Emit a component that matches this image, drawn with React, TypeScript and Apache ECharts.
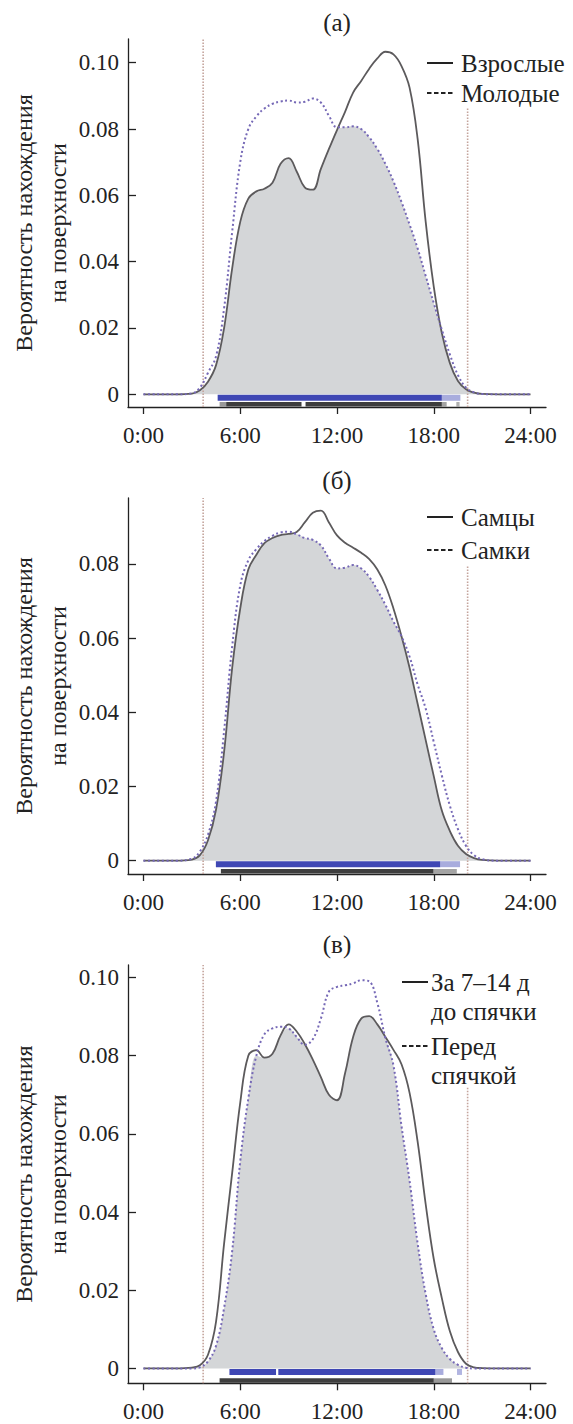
import React, { useEffect, useRef } from "react";
import * as echarts from "echarts";

// Hours of day at which the activity densities are sampled
const hours = [0, 2, 3, 3.5, 4, 4.5, 5, 5.5, 6, 6.5, 7, 7.5, 8, 8.5, 9, 9.5, 10, 10.5, 11, 11.5, 12, 12.5, 13, 13.5, 14, 14.5, 15, 15.5, 16, 16.5, 17, 17.5, 18, 18.5, 19, 19.5, 20, 20.5, 21, 22, 24];

// (а) adults vs young
const adults = [0, 0, 0.0002, 0.0012, 0.0038, 0.0088, 0.020, 0.038, 0.052, 0.059, 0.0612, 0.062, 0.0638, 0.0695, 0.0712, 0.0672, 0.0624, 0.0617, 0.068, 0.074, 0.0797, 0.0852, 0.091, 0.0945, 0.0982, 0.1013, 0.1033, 0.1025, 0.099, 0.0925, 0.077, 0.052, 0.0325, 0.0185, 0.0094, 0.004, 0.0015, 0.0005, 0.0001, 0, 0];
const young = [0, 0, 0.0003, 0.002, 0.0065, 0.0115, 0.026, 0.049, 0.070, 0.080, 0.0838, 0.0862, 0.0876, 0.0883, 0.0886, 0.088, 0.0882, 0.0892, 0.088, 0.084, 0.0805, 0.0805, 0.0808, 0.080, 0.0775, 0.074, 0.0695, 0.0642, 0.058, 0.0512, 0.044, 0.0357, 0.0275, 0.0195, 0.012, 0.0058, 0.002, 0.0006, 0.0001, 0, 0];

// (б) males vs females
const males = [0, 0, 0.0003, 0.0015, 0.0055, 0.0138, 0.0294, 0.052, 0.068, 0.0785, 0.0825, 0.0856, 0.087, 0.0878, 0.0881, 0.0886, 0.0912, 0.0938, 0.0944, 0.0912, 0.0877, 0.0857, 0.0844, 0.083, 0.0813, 0.0785, 0.0742, 0.068, 0.0605, 0.052, 0.0423, 0.0325, 0.0228, 0.0135, 0.008, 0.004, 0.0018, 0.0007, 0.0002, 0, 0];
const females = [0, 0, 0.0005, 0.0025, 0.007, 0.016, 0.035, 0.0578, 0.0742, 0.081, 0.084, 0.0862, 0.0876, 0.0885, 0.0887, 0.088, 0.087, 0.0865, 0.085, 0.0815, 0.0788, 0.079, 0.0797, 0.0788, 0.0765, 0.073, 0.069, 0.0645, 0.0605, 0.055, 0.0475, 0.041, 0.032, 0.023, 0.0148, 0.0085, 0.004, 0.0015, 0.0004, 0, 0];

// (в) 7–14 days before hibernation vs just before hibernation
const weeksBefore = [0, 0, 0.0002, 0.0008, 0.0035, 0.012, 0.032, 0.050, 0.068, 0.080, 0.0814, 0.0795, 0.0805, 0.0852, 0.088, 0.0862, 0.083, 0.079, 0.0745, 0.070, 0.0686, 0.0755, 0.0848, 0.0895, 0.0901, 0.088, 0.0848, 0.0815, 0.0778, 0.0705, 0.058, 0.042, 0.028, 0.018, 0.0095, 0.0042, 0.0012, 0.0003, 0.0001, 0, 0];
const justBefore = [0, 0, 0, 0.0003, 0.0018, 0.0058, 0.0155, 0.030, 0.053, 0.069, 0.080, 0.0855, 0.087, 0.0874, 0.087, 0.0848, 0.0828, 0.0842, 0.0895, 0.0964, 0.0976, 0.098, 0.0985, 0.0993, 0.099, 0.0935, 0.0845, 0.0775, 0.062, 0.048, 0.032, 0.019, 0.010, 0.0052, 0.0024, 0.0009, 0.0002, 0, 0, 0, 0];

// Observation rugs: [from hour, to hour, density of ticks]
const rugAdults = [[4.72, 5.13, 0.45], [5.13, 9.8, 0.85], [10.05, 18.5, 0.85], [18.5, 18.8, 0.4], [19.4, 19.6, 0.35]];
const rugYoung = [[4.6, 18.5, 1], [18.5, 19.65, 0.45]];
const rugMales = [[4.8, 17.98, 0.85], [17.98, 19.43, 0.4]];
const rugFemales = [[4.49, 18.4, 1], [18.4, 19.63, 0.45]];
const rugWeeksBefore = [[4.72, 18.0, 0.85], [18.0, 19.13, 0.45]];
const rugJustBefore = [[5.33, 8.22, 1], [8.36, 18.1, 1], [18.1, 18.6, 0.45], [19.44, 19.75, 0.4]];

// Sunrise and sunset, hours
const sunrise = 3.7;
const sunset = 20.1;

const hourTicks = [0, 6, 12, 18, 24];
const probTicksA = [0, 0.02, 0.04, 0.06, 0.08, 0.1];
const probTicksB = [0, 0.02, 0.04, 0.06, 0.08];
const probTicksC = [0, 0.02, 0.04, 0.06, 0.08, 0.1];

const yTitle = ["Вероятность нахождения", "на поверхности"];

const FONT = "'Liberation Serif', 'Times New Roman', serif";
const INK = "#222";
const FILL = "#d4d6d8";
const SOLID = "#5c5a5c";
const DOTTED = "#7568b6";
const SUNLINE = "#c4a49c";
const RUG_BLUE = "#3f47b4";
const RUG_BLACK = "#1c1c1c";

const GRID_LEFT = 128;
const GRID_WIDTH = 418;

const panels = [
  {
    title: "(а)", titleY: 22, top: 39, height: 368, yMin: -0.00383, yMax: 0.10715, ticks: probTicksA,
    first: adults, second: young, rugFirst: rugAdults, rugSecond: rugYoung, sunsetTop: 0.0862,
    legend: { icon0: 427, icon1: 453, textX: 461, rows: [{ y: 63, lines: ["Взрослые"] }, { y: 93, lines: ["Молодые"] }] },
  },
  {
    title: "(б)", titleY: 480, top: 498, height: 376, yMin: -0.00359, yMax: 0.09779, ticks: probTicksB,
    first: males, second: females, rugFirst: rugMales, rugSecond: rugFemales, sunsetTop: 0.0797,
    legend: { icon0: 427, icon1: 453, textX: 461, rows: [{ y: 517, lines: ["Самцы"] }, { y: 550, lines: ["Самки"] }] },
  },
  {
    title: "(в)", titleY: 944, top: 965, height: 418.3, yMin: -0.0038, yMax: 0.1032, ticks: probTicksC,
    first: weeksBefore, second: justBefore, rugFirst: rugWeeksBefore, rugSecond: rugJustBefore, sunsetTop: 0.072,
    legend: { icon0: 402, icon1: 428, textX: 431, rows: [{ y: 982, lines: ["За 7–14 д", "до спячки"] }, { y: 1046, lines: ["Перед", "спячкой"] }] },
  },
];

function buildOption() {
  const grid: any[] = [];
  const xAxis: any[] = [];
  const yAxis: any[] = [];
  const series: any[] = [];
  const graphic: any[] = [];

  panels.forEach((p, i) => {
    grid.push({ left: GRID_LEFT, top: p.top, width: GRID_WIDTH, height: p.height, containLabel: false });
    xAxis.push({
      gridIndex: i, type: "value", min: -0.96, max: 24.96,
      axisLine: { show: true, onZero: false, lineStyle: { color: INK, width: 1.3 } },
      axisTick: { show: true, customValues: hourTicks, length: 7, lineStyle: { color: INK, width: 1.3 } },
      axisLabel: { customValues: hourTicks, formatter: (v: number) => `${v}:00`, margin: 17, fontSize: 23, fontFamily: FONT, color: INK },
      splitLine: { show: false },
    });
    yAxis.push({
      gridIndex: i, type: "value", min: p.yMin, max: p.yMax,
      axisLine: { show: true, onZero: false, lineStyle: { color: INK, width: 1.3 } },
      axisTick: { show: true, inside: true, customValues: p.ticks, length: 8, lineStyle: { color: INK, width: 1.3 } },
      axisLabel: { customValues: p.ticks, formatter: (v: number) => (v === 0 ? "0" : v.toFixed(2)), margin: 9, fontSize: 23, fontFamily: FONT, color: INK },
      splitLine: { show: false },
    });

    const overlap = hours.map((h, k) => [h, Math.min(p.first[k], p.second[k])]);
    series.push({
      type: "line", xAxisIndex: i, yAxisIndex: i, data: overlap, smooth: 0.4, symbol: "none",
      lineStyle: { width: 0, opacity: 0 }, areaStyle: { color: FILL, opacity: 1 }, z: 1, silent: true,
    });
    series.push({
      type: "line", xAxisIndex: i, yAxisIndex: i, data: [[sunrise, p.yMin], [sunrise, p.yMax]], symbol: "none",
      lineStyle: { color: SUNLINE, width: 1.6, type: [1.6, 1.4] }, z: 2, silent: true,
    });
    series.push({
      type: "line", xAxisIndex: i, yAxisIndex: i, data: [[sunset, p.yMin], [sunset, p.sunsetTop]], symbol: "none",
      lineStyle: { color: SUNLINE, width: 1.6, type: [1.6, 1.4] }, z: 2, silent: true,
    });
    series.push({
      type: "line", xAxisIndex: i, yAxisIndex: i, data: hours.map((h, k) => [h, p.first[k]]), smooth: 0.4, symbol: "none",
      lineStyle: { color: SOLID, width: 1.8 }, z: 4, silent: true,
    });
    series.push({
      type: "line", xAxisIndex: i, yAxisIndex: i, data: hours.map((h, k) => [h, p.second[k]]), smooth: 0.4, symbol: "none",
      lineStyle: { color: DOTTED, width: 2, type: [2, 2.6] }, z: 5, silent: true,
    });

    const rug = (data: number[][], upper: boolean, color: string) => ({
      type: "custom", xAxisIndex: i, yAxisIndex: i, data, silent: true, z: 6, clip: false,
      renderItem: (params: any, api: any) => {
        const s = api.coord([api.value(0), 0]);
        const e = api.coord([api.value(1), 0]);
        const cs = params.coordSys;
        const y = upper ? s[1] + 0.5 : cs.y + cs.height - 5;
        const h = upper ? 6 : 4.5;
        return {
          type: "rect",
          shape: { x: s[0], y, width: Math.max(e[0] - s[0], 1), height: h },
          style: { fill: color, opacity: api.value(2) },
        };
      },
    });
    series.push(rug(p.rugSecond, true, RUG_BLUE));
    series.push(rug(p.rugFirst, false, RUG_BLACK));

    graphic.push({
      type: "text", x: GRID_LEFT + GRID_WIDTH / 2, y: p.titleY, z: 100,
      style: { text: p.title, fontSize: 25, fontFamily: FONT, fill: INK, textAlign: "center", textVerticalAlign: "middle" },
    });
    graphic.push({
      type: "text", x: 41, y: p.top + p.height / 2, rotation: Math.PI / 2, z: 100,
      style: { text: yTitle.join("\n"), fontSize: 24, lineHeight: 34, fontFamily: FONT, fill: INK, textAlign: "center", textVerticalAlign: "middle" },
    });

    const lg = p.legend;
    lg.rows.forEach((r, ri) => {
      graphic.push({
        type: "line", z: 100,
        shape: { x1: lg.icon0, y1: r.y, x2: lg.icon1, y2: r.y },
        style: { stroke: INK, lineWidth: 2, lineDash: ri === 1 ? [4.5, 2.5] : null },
      });
      r.lines.forEach((t, li) => {
        graphic.push({
          type: "text", x: lg.textX, y: r.y + li * 29, z: 100,
          style: { text: t, fontSize: 25, fontFamily: FONT, fill: INK, textAlign: "left", textVerticalAlign: "middle" },
        });
      });
    });
  });

  return { animation: false, backgroundColor: "#fff", grid, xAxis, yAxis, series, graphic };
}

export default function App() {
  const ref = useRef<HTMLDivElement>(null);
  useEffect(() => {
    if (!ref.current) return;
    const chart = echarts.init(ref.current, null, { renderer: "svg" });
    chart.setOption(buildOption() as any);
    return () => chart.dispose();
  }, []);
  return <div ref={ref} style={{ position: "absolute", left: 0, top: 0, width: 573, height: 1424 }} />;
}
